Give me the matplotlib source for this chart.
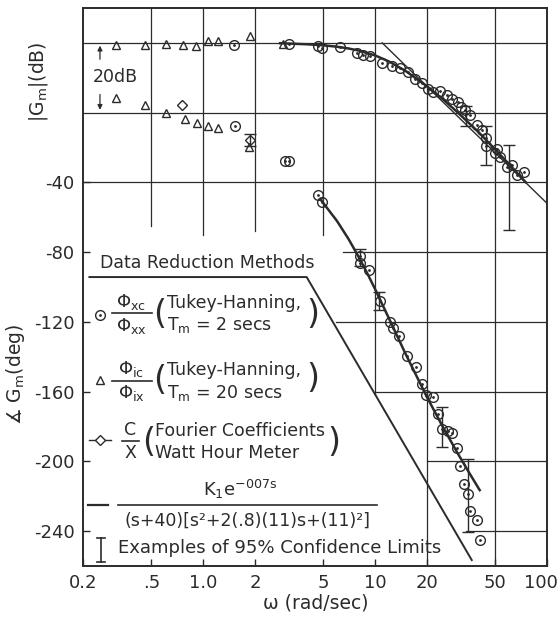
import matplotlib
matplotlib.use('Agg')
import matplotlib.pyplot as plt
from matplotlib.lines import Line2D

# ---- magnitude |Gm| in dB (0 dB sits on the +40 deg line, 20 dB = 40 deg)
mag_tri_w = [0.31, 0.46, 0.61, 0.76, 0.91, 1.07, 1.22, 1.88, 2.92]
mag_tri_db = [-0.5, -0.5, -0.3, -0.7, -0.9, 0.4, 0.4, 1.9, -0.3]

mag_circ_w = [1.52, 3.17, 4.67, 4.9, 6.24, 7.8, 8.53, 9.33, 10.9, 12.5, 13.9,
              15.6, 17.0, 18.7, 20.2, 21.8, 23.9, 26.2, 27.9, 30.3, 31.8, 33.3,
              35.6, 38.9, 41.6, 44.0, 44.4, 49.8, 50.9, 53.2, 58.3, 62.4, 67.1, 73.0]
mag_circ_db = [-0.5, -0.3, -0.8, -1.4, -1.2, -2.9, -3.4, -3.8, -5.8, -6.7, -7.2,
               -8.3, -10.3, -11.4, -13.2, -14.1, -13.9, -15.0, -16.0, -16.9, -18.4, -19.3,
               -20.8, -23.6, -25.1, -27.4, -29.5, -31.7, -30.3, -32.6, -35.5, -35.0, -37.9, -36.9]

mag_fit_w = [2.8, 4, 5, 6, 7, 8, 10, 12, 15, 20, 25, 30, 40, 50, 60, 75]
mag_fit_db = [-0.1, -0.4, -0.7, -1.1, -1.6, -2.2, -3.6, -5.3, -8.0, -12.4, -16.3,
              -19.8, -25.6, -30.6, -34.7, -39.9]

mag_asym_w = [11, 100]
mag_asym_db = [0, -46]

mag_err_w = [33.7, 44.0, 59.9]
mag_err_lo = [-23.7, -35.1, -53.7]
mag_err_hi = [-18.0, -23.7, -29.4]

# ---- phase in degrees
ph_tri_w = [0.31, 0.46, 0.61, 0.78, 0.92, 1.07, 1.22, 1.86]
ph_tri_deg = [8.4, 4.6, -0.2, -3.4, -5.9, -7.6, -8.7, -19.6]

ph_dia_w = [0.755, 1.88]
ph_dia_deg = [4.6, -15.5]

ph_circ_w = [1.54, 3.0, 3.15, 4.67, 4.9, 8.15, 8.2, 9.24, 10.66, 12.19, 12.7, 13.8,
             15.33, 17.2, 18.7, 19.9, 21.8, 23.3, 24.4, 26.7, 27.9, 29.9, 31.3,
             32.7, 34.8, 35.6, 38.9, 40.6]
ph_circ_deg = [-7.8, -27.5, -28.0, -47.3, -51.0, -86.3, -82.0, -90.1, -108.2, -120.0,
               -123.4, -128.2, -139.6, -145.9, -155.4, -162.0, -163.0, -173.0, -181.5,
               -182.5, -184.0, -192.4, -202.7, -213.0, -218.7, -228.7, -233.5, -245.3]

ph_fit_w = [4.8, 6, 7, 8, 9, 10, 12, 15, 20, 25, 30, 35, 40.6]
ph_fit_deg = [-49.6, -62.1, -72.4, -82.5, -92.1, -101.2, -117.7, -138.1, -163.0,
              -180.9, -194.8, -206.0, -216.5]

ph_asym_w = [0.218, 4.0, 36.5]
ph_asym_deg = [-94.3, -94.3, -256.6]

ph_err_w = [1.88, 8.2, 10.6, 24.4, 34.8]
ph_err_lo = [-19.0, -88.0, -113.0, -192.0, -240.6]
ph_err_hi = [-12.5, -78.0, -103.0, -169.0, -198.7]

x_ticks = [0.2, 0.5, 1, 2, 5, 10, 20, 50, 100]
x_labels = ['0.2', '.5', '1.0', '2', '5', '10', '20', '50', '100']
y_ticks = [-240, -200, -160, -120, -80, -40]
y_labels = ['-240', '-200', '-160', '-120', '-80', '-40']

ink = '#2b2b2b'
W, H = 560, 618


def dbv(vals):
    return [40 + 2 * v for v in vals]


fig = plt.figure(figsize=(W / 100, H / 100), dpi=100)
ax = fig.add_axes([83 / W, 1 - 566 / H, (547 - 83) / W, (566 - 8) / H])
ax.set_xscale('log')
ax.set_xlim(0.2, 100)
ax.set_ylim(-260, 60)

# grid, cut where the legend card was pasted on
hgrid = {40: 0.2, 0: 0.2, -40: 0.2, -80: 6.5, -120: 5.9, -160: 10.1, -200: 20, -240: 33.7}
vgrid = {0.5: -65, 1: -70, 2: -68, 5: -70, 10: -162, 20: -260, 50: -260}
for yv, x0 in hgrid.items():
    ax.plot([x0, 100], [yv, yv], color=ink, lw=0.9, zorder=1)
for xv, y1 in vgrid.items():
    ax.plot([xv, xv], [60, y1], color=ink, lw=0.9, zorder=1)

# magnitude
ax.plot(mag_asym_w, dbv(mag_asym_db), color=ink, lw=1.0, zorder=3)
ax.plot(mag_fit_w, dbv(mag_fit_db), color=ink, lw=1.8, zorder=3)
ax.plot(mag_tri_w, dbv(mag_tri_db), '^', ms=6, mfc='none', mec=ink, mew=1.0, zorder=4)
ax.plot(mag_circ_w, dbv(mag_circ_db), 'o', ms=7, mfc='none', mec=ink, mew=1.0, zorder=4)
ax.plot(mag_circ_w, dbv(mag_circ_db), '.', ms=2, color=ink, zorder=4)
for w, lo, hi in zip(mag_err_w, mag_err_lo, mag_err_hi):
    ax.errorbar([w], [40 + (lo + hi)], yerr=[[hi - lo]], fmt='none', ecolor=ink,
                elinewidth=1.0, capsize=4, capthick=1.0, zorder=3)

# phase
ax.plot(ph_asym_w, ph_asym_deg, color=ink, lw=1.4, zorder=3)
ax.plot(ph_fit_w, ph_fit_deg, color=ink, lw=1.8, zorder=3)
ax.plot(ph_tri_w, ph_tri_deg, '^', ms=6, mfc='none', mec=ink, mew=1.0, zorder=4)
ax.plot(ph_dia_w, ph_dia_deg, 'D', ms=5, mfc='none', mec=ink, mew=1.0, zorder=4)
ax.plot(ph_circ_w, ph_circ_deg, 'o', ms=7, mfc='none', mec=ink, mew=1.0, zorder=4)
ax.plot(ph_circ_w, ph_circ_deg, '.', ms=2, color=ink, zorder=4)
for w, lo, hi in zip(ph_err_w, ph_err_lo, ph_err_hi):
    ax.errorbar([w], [(lo + hi) / 2], yerr=[[(hi - lo) / 2]], fmt='none', ecolor=ink,
                elinewidth=1.0, capsize=4, capthick=1.0, zorder=3)

# 20 dB scale marker
ax.annotate('', xy=(0.251, 40), xytext=(0.251, 29),
            arrowprops=dict(arrowstyle='-|>', color=ink, lw=0.9, mutation_scale=7))
ax.annotate('', xy=(0.251, 0), xytext=(0.251, 12),
            arrowprops=dict(arrowstyle='-|>', color=ink, lw=0.9, mutation_scale=7))
ax.text(0.228, 20.5, '20dB', fontsize=12.5, color=ink, va='center', ha='left')

ax.set_xticks(x_ticks)
ax.set_xticklabels(x_labels[:-1] + [''])
ax.minorticks_off()
ax.set_yticks(y_ticks)
ax.set_yticklabels(y_labels)
ax.tick_params(direction='in', length=5, width=1, color=ink, labelcolor=ink,
               labelsize=13, pad=6)
for s in ax.spines.values():
    s.set_color(ink)
    s.set_linewidth(1.4)


def ftext(x, y, s, **kw):
    kw.setdefault('fontsize', 12.5)
    kw.setdefault('color', ink)
    kw.setdefault('va', 'center')
    fig.text(x / W, 1 - y / H, s, **kw)


def fline(xs, ys, **kw):
    kw.setdefault('color', ink)
    fig.add_artist(Line2D([x / W for x in xs], [1 - y / H for y in ys],
                          transform=fig.transFigure, **kw))


# last x tick label, pulled in so it stays on the page
ftext(541, 583, x_labels[-1], ha='center', fontsize=13)

# axis labels
ftext(38, 82, r'|G$_{\rm m}$|(dB)', rotation=90, ha='center', fontsize=13.5)
ftext(16, 374, r'$\measuredangle$ G$_{\rm m}$(deg)', rotation=90, ha='center', fontsize=13.5)
ftext(316, 603, 'ω (rad/sec)', ha='center', fontsize=13.5)

# legend card
ftext(100, 263, 'Data Reduction Methods')

fline([100], [315], marker='o', ms=7, mfc='none', mec=ink, mew=1.0, lw=0)
fline([100], [315], marker='.', ms=2, lw=0)
ftext(131, 302, r'$\Phi_{\rm xc}$', ha='center', fontsize=13)
fline([112, 152], [313, 313], lw=1.2)
ftext(131, 326, r'$\Phi_{\rm xx}$', ha='center', fontsize=13)
ftext(160, 314, '(', ha='center', fontsize=24)
ftext(167, 303, 'Tukey-Hanning,')
ftext(167, 325, r'T$_{\rm m}$ = 2 secs')
ftext(313, 314, ')', ha='center', fontsize=24)

fline([100], [380], marker='^', ms=6, mfc='none', mec=ink, mew=1.0, lw=0)
ftext(131, 369, r'$\Phi_{\rm ic}$', ha='center', fontsize=13)
fline([112, 152], [381, 381], lw=1.2)
ftext(131, 393, r'$\Phi_{\rm ix}$', ha='center', fontsize=13)
ftext(160, 381, '(', ha='center', fontsize=24)
ftext(167, 370, 'Tukey-Hanning,')
ftext(167, 393, r'T$_{\rm m}$ = 20 secs')
ftext(313, 379, ')', ha='center', fontsize=24)

fline([89, 111], [440, 440], lw=1.0)
fline([100], [440], marker='D', ms=5, mfc='white', mec=ink, mew=1.0, lw=0)
ftext(130, 430, 'C', ha='center')
fline([122, 139], [441, 441], lw=1.2)
ftext(130, 453, 'X', ha='center')
ftext(149, 442, '(', ha='center', fontsize=24)
ftext(155, 431, 'Fourier Coefficients')
ftext(155, 453, 'Watt Hour Meter')
ftext(334, 442, ')', ha='center', fontsize=24)

fline([88, 108], [505, 505], lw=1.6)
ftext(240, 489, r'K$_{\rm 1}$e$^{\rm {-}007s}$', ha='center', fontsize=13)
fline([118, 377], [505, 505], lw=1.2)
ftext(247, 521, '(s+40)[s²+2(.8)(11)s+(11)²]', ha='center', fontsize=12.5)

fline([101, 101], [538, 562], lw=1.2)
fline([97, 105], [538, 538], lw=1.2)
fline([97, 105], [562, 562], lw=1.2)
ftext(118, 548, 'Examples of 95% Confidence Limits', fontsize=13)

fig.savefig('out.png', dpi=100, facecolor='white')
